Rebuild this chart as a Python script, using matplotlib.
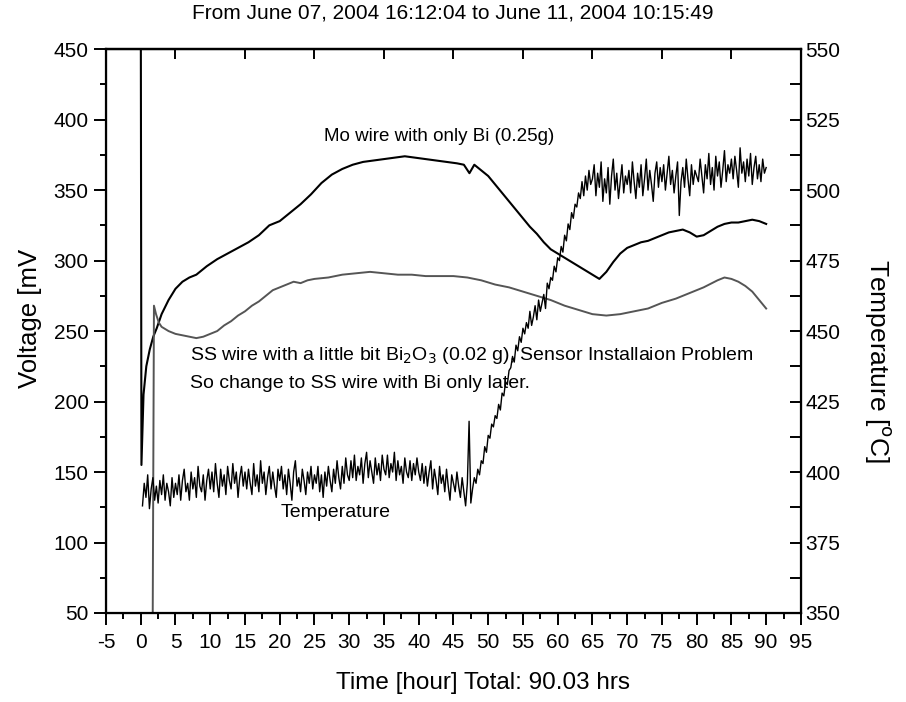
import numpy as np
import matplotlib
matplotlib.use("Agg")
import matplotlib.pyplot as plt
from matplotlib.ticker import MultipleLocator

plt.rcParams['font.family'] = ['Liberation Sans', 'DejaVu Sans']
plt.rcParams['axes.unicode_minus'] = False

# Mo wire with only Bi (0.25 g), voltage [mV]
mo_t = [0, 0.1, 0.4, 0.8, 1.3, 1.8, 2.3, 3, 4, 5, 6, 7, 8, 9.5, 11, 12.5, 14, 15.5,
        17, 18.5, 20, 21.5, 23, 24.5, 26, 27.5, 29, 30.5, 32, 33.5, 35, 36.5, 38,
        39.5, 41, 42.5, 44, 45.5, 46.5, 47.3, 48, 49, 50, 51, 52, 53, 54, 55, 56,
        57, 58, 59, 60, 61, 62, 63, 64, 65, 66, 67, 68, 69, 70, 71, 72, 73, 74, 75,
        76, 77, 78, 79, 80, 81, 82, 83, 84, 85, 86, 87, 88, 89, 90]
mo_v = [500, 155, 205, 225, 237, 246, 252, 262, 272, 280, 285, 288, 290, 296, 301,
        305, 309, 313, 318, 325, 328, 334, 340, 347, 355, 361, 365, 368, 370, 371,
        372, 373, 374, 373, 372, 371, 370, 369, 368, 362, 368, 364, 360, 354, 348,
        342, 336, 330, 324, 319, 313, 308, 305, 302, 299, 296, 293, 290, 287, 292,
        299, 305, 309, 311, 313, 314, 316, 318, 320, 321, 322, 320, 317, 318, 321,
        324, 326, 327, 327, 328, 329, 328, 326]

# SS wire with a little Bi2O3, voltage [mV]
ss_t = [1.7, 1.9, 2.2, 2.6, 3, 4, 5, 6, 7, 8, 9, 10, 11, 12, 13, 14, 15, 16, 17, 18,
        19, 20, 21, 22, 23, 24, 25, 27, 29, 31, 33, 35, 37, 39, 41, 43, 45, 47, 49,
        51, 53, 55, 57, 59, 61, 63, 65, 67, 69, 71, 73, 75, 77, 79, 81, 83, 84, 85,
        86, 87, 88, 89, 90]
ss_v = [20, 268, 262, 256, 253, 250, 248, 247, 246, 245, 246, 248, 250, 254, 257,
        261, 264, 268, 271, 275, 279, 281, 283, 285, 284, 286, 287, 288, 290, 291,
        292, 291, 290, 290, 289, 289, 289, 288, 286, 283, 281, 278, 275, 272, 268,
        265, 262, 261, 262, 264, 266, 270, 273, 277, 281, 286, 288, 287, 285, 282,
        278, 272, 266]

# Temperature [C], read every 0.25 h from 0.25 h (one row = 5 h)
temp_start, temp_step = 0.25, 0.25
temp_c = [388, 396, 391, 399, 387, 394, 398, 390, 395, 389, 397, 392, 399, 390, 396, 393, 388, 398, 391, 396,
          392, 399, 390, 397, 401, 393, 396, 390, 400, 394, 398, 391, 402, 395, 393, 399, 390, 397, 401, 394,
          400, 393, 403, 396, 391, 401, 395, 399, 392, 402, 397, 394, 403, 396, 400, 391, 398, 402, 395, 400,
          394, 401, 396, 392, 403, 395, 399, 393, 404, 396, 400, 392, 398, 402, 394, 400, 395, 391, 401, 397,
          402, 394, 399, 392, 401, 396, 390, 400, 404, 395, 398, 393, 401, 397, 392, 400, 396, 402, 394, 399,
          396, 402, 393, 399, 391, 400, 395, 402, 397, 393, 401, 396, 404, 398, 394, 402, 396, 405, 399, 397,
          404, 398, 406, 397, 402, 399, 405, 396, 403, 407, 398, 404, 400, 396, 405, 399, 403, 397, 406, 401,
          399, 406, 398, 403, 400, 407, 397, 404, 399, 402, 396, 405, 400, 398, 404, 397, 403, 399, 405, 400,
          397, 403, 396, 402, 395, 400, 404, 394, 401, 397, 392, 402, 396, 399, 393, 401, 395, 390, 399, 396,
          393, 400, 395, 391, 398, 393, 388, 396, 418, 389, 394, 398, 396, 401, 399, 404, 403, 409, 407, 413,
          412, 417, 416, 420, 419, 424, 422, 428, 427, 432, 431, 436, 437, 441, 439, 445, 443, 448, 446, 451,
          449, 453, 451, 457, 452, 455, 459, 454, 461, 457, 460, 463, 458, 467, 465, 469, 468, 473, 471, 476,
          475, 480, 478, 484, 482, 488, 486, 492, 490, 495, 494, 499, 497, 503, 498, 505, 500, 507, 502, 504,
          509, 498, 506, 501, 510, 496, 504, 499, 508, 495, 505, 511, 500, 506, 497, 503, 509, 499, 505, 502,
          507, 499, 510, 503, 497, 506, 501, 509, 498, 504, 511, 500, 507, 502, 496, 506, 510, 501, 508, 503,
          509, 500, 506, 512, 502, 507, 499, 505, 510, 491, 503, 508, 501, 511, 504, 498, 509, 502, 507, 505,
          503, 511, 505, 499, 509, 504, 513, 502, 508, 500, 512, 505, 510, 501, 507, 514, 503, 509, 506, 511,
          504, 512, 507, 501, 515, 506, 510, 503, 511, 505, 513, 502, 508, 512, 504, 509, 503, 511, 506, 508]
temp_t = temp_start + temp_step * np.arange(len(temp_c))

fig = plt.figure(figsize=(9.06, 7.02), dpi=100)
ax = fig.add_axes([0.117, 0.1268, 0.767, 0.8032])

ax.plot(mo_t, mo_v, color='black', lw=1.5)
ax.plot(ss_t, ss_v, color='#555555', lw=1.4)
ax.set_xlim(-5, 95)
ax.set_ylim(50, 450)
ax.xaxis.set_major_locator(MultipleLocator(5))
ax.xaxis.set_minor_locator(MultipleLocator(2.5))
ax.yaxis.set_major_locator(MultipleLocator(50))
ax.yaxis.set_minor_locator(MultipleLocator(25))
ax.tick_params(which='both', direction='out', top=False, right=False,
               labelsize=15, width=1.4)
ax.tick_params(which='major', length=8.6, pad=4)
ax.tick_params(which='minor', length=4.3)
ax.tick_params(axis='x', which='major', pad=6)
for s in ax.spines.values():
    s.set_linewidth(1.6)

top = ax.secondary_xaxis('top')
top.set_xticks(np.arange(-5, 96, 10))
top.tick_params(direction='in', length=7, width=1.4, labeltop=False)
top.spines['top'].set_linewidth(1.6)

ax2 = ax.twinx()
ax2.plot(temp_t, temp_c, color='black', lw=1.0)
ax2.set_ylim(350, 550)
ax2.yaxis.set_major_locator(MultipleLocator(25))
ax2.yaxis.set_minor_locator(MultipleLocator(12.5))
ax2.tick_params(which='both', direction='in', length=8, width=1.4,
                labelsize=15, pad=3)

fig.text(0.5, 1 - 13 / 702, 'From June 07, 2004 16:12:04 to June 11, 2004 10:15:49',
         fontsize=15, ha='center', va='center')
fig.text(483 / 906, 1 - 683 / 702, 'Time [hour] Total: 90.03 hrs',
         fontsize=17.5, ha='center', va='center')
fig.text(30 / 906, 1 - 318 / 702, 'Voltage [mV', fontsize=18.5,
         rotation=90, ha='center', va='center')
fig.text(878 / 906, 1 - 361 / 702, 'Temperature [$^{\\rm o}$C]', fontsize=19,
         rotation=270, ha='center', va='center')

ax.text(26.3, 388, 'Mo wire with only Bi (0.25g)', fontsize=13.5, va='center')
ax.text(7.1, 233, 'SS wire with a little bit Bi$_2$O$_3$ (0.02 g), Sensor Installaion Problem',
        fontsize=14, va='center')
ax.text(7.1, 213, 'So change to SS wire with Bi only later.', fontsize=14, va='center')
ax.text(20.2, 121, 'Temperature', fontsize=14, va='center')

fig.savefig('out.png', dpi=100)
